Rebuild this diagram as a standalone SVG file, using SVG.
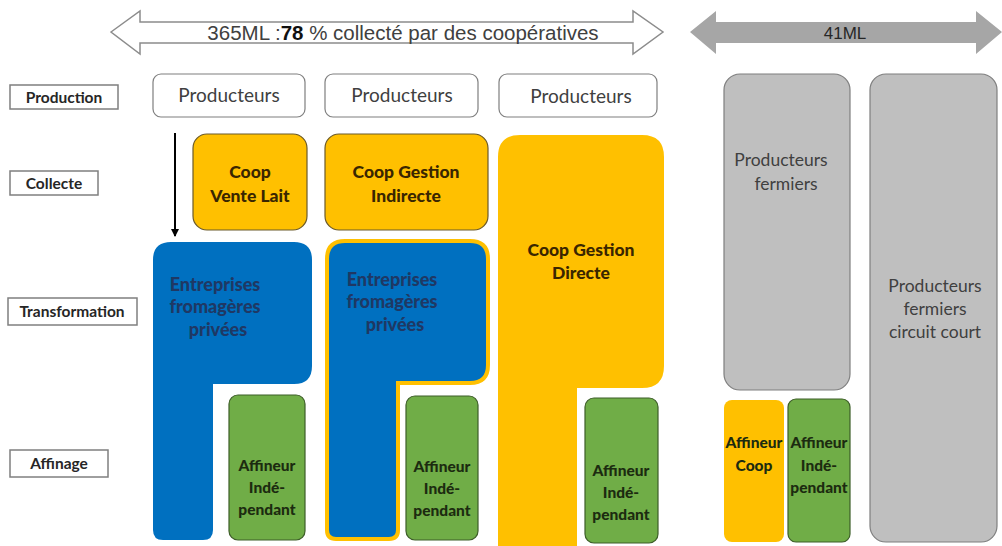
<svg xmlns="http://www.w3.org/2000/svg" width="1002" height="546" viewBox="0 0 1002 546">
<style>
.lbl{fill:#fff;stroke:#7f7f7f;stroke-width:1.5}
.lt{font-family:Lato,"Open Sans",sans-serif;font-weight:bold;font-size:15.5px;fill:#262626;text-anchor:middle}
.prod{fill:#fff;stroke:#7f7f7f;stroke-width:1.2}
.pt{font-family:Lato,"Open Sans",sans-serif;font-size:19px;fill:#404040;text-anchor:middle}
.org{fill:#FFC000;stroke:#6b5a2a;stroke-width:1.2}
.ot{font-family:Lato,"Open Sans",sans-serif;font-weight:900;font-size:17.5px;fill:#3a2600;text-anchor:middle}
.grn{fill:#70AD47;stroke:#3d5e28;stroke-width:1.2}
.gt{font-family:Lato,"Open Sans",sans-serif;font-weight:900;font-size:15.5px;fill:#1c2b10;text-anchor:middle}
.blu{fill:#0070C0}
.bt{font-family:Lato,"Open Sans",sans-serif;font-weight:900;font-size:18px;fill:#1f3864;text-anchor:middle}
.gry{fill:#BFBFBF;stroke:#7f7f7f;stroke-width:1.2}
.yt{font-family:Lato,"Open Sans",sans-serif;font-size:17.5px;fill:#404040;text-anchor:middle}
</style>
<defs>
<marker id="ah" markerWidth="8" markerHeight="8" refX="7" refY="4" orient="auto" markerUnits="userSpaceOnUse">
<path d="M0,0 L8,4 L0,8 Z" fill="#000"/>
</marker>
</defs>
<rect width="1002" height="546" fill="#fff"/>

<g id="arrow-365">
<path d="M111,32 L140,11 L140,22 L633,22 L633,11 L663,32 L633,54 L633,43 L140,43 L140,54 Z" fill="#fff" stroke="#8c8c8c" stroke-width="1.5"/>
<text x="403" y="39.5" font-family="Liberation Sans,Arial,sans-serif" font-size="20.5" fill="#404040" text-anchor="middle">365ML :<tspan font-weight="bold" fill="#111">78</tspan> % collecté par des coopératives</text>
</g>
<g id="arrow-41">
<path d="M690,32 L716,11 L716,22 L976,22 L976,11 L1002,32 L976,54 L976,43 L716,43 L716,54 Z" fill="#a6a6a6"/>
<text x="845" y="39" font-family="Liberation Sans,Arial,sans-serif" font-size="17" fill="#262626" text-anchor="middle">41ML</text>
</g>

<g id="lbl-production"><rect class="lbl" x="10" y="85" width="108" height="24"/><text class="lt" x="64" y="102.5">Production</text></g>
<g id="lbl-collecte"><rect class="lbl" x="10" y="171" width="88" height="24"/><text class="lt" x="54" y="188.5">Collecte</text></g>
<g id="lbl-transformation"><rect class="lbl" x="8" y="298" width="129" height="27"/><text class="lt" x="72" y="317">Transformation</text></g>
<g id="lbl-affinage"><rect class="lbl" x="10" y="450" width="98" height="27"/><text class="lt" x="59" y="469">Affinage</text></g>

<g id="prod1"><rect class="prod" x="153" y="74" width="152" height="43" rx="8"/><text class="pt" x="229" y="102">Producteurs</text></g>
<g id="prod2"><rect class="prod" x="325" y="74" width="153" height="43" rx="8"/><text class="pt" x="402" y="102">Producteurs</text></g>
<g id="prod3"><rect class="prod" x="499" y="74" width="158" height="43" rx="8"/><text class="pt" x="581" y="103">Producteurs</text></g>

<g id="connectors">
<line x1="175" y1="133" x2="175" y2="236" stroke="#000" stroke-width="2" marker-end="url(#ah)"/>
</g>

<g id="coop-vente-lait"><rect class="org" x="193" y="134" width="114" height="96" rx="14"/><text class="ot" x="250" y="178">Coop</text><text class="ot" x="250" y="202">Vente Lait</text></g>
<g id="coop-gestion-indirecte"><rect class="org" x="325" y="134" width="163" height="96" rx="14"/><text class="ot" x="406" y="178">Coop Gestion</text><text class="ot" x="406" y="202">Indirecte</text></g>

<g id="coop-gestion-directe">
<path d="M520,135 H642 Q664,135 664,157 V366 Q664,388 642,388 H577 V546 H498 V157 Q498,135 520,135 Z" fill="#FFC000"/>
<text class="ot" x="581" y="256">Coop Gestion</text><text class="ot" x="581" y="279">Directe</text>
</g>

<g id="entreprises-1">
<path d="M171,242 H294 Q312,242 312,260 V366 Q312,384 294,384 H213 V530 Q213,540 203,540 H163 Q153,540 153,530 V260 Q153,242 171,242 Z" class="blu"/>
<text class="bt" x="215" y="291">Entreprises</text><text class="bt" x="215" y="313">fromagères</text><text class="bt" x="218" y="336">privées</text>
</g>
<g id="entreprises-2">
<path d="M345,241 H470 Q488,241 488,259 V365 Q488,383 470,383 H398 V530 Q398,539 389,539 H336 Q327,539 327,530 V259 Q327,241 345,241 Z" class="blu" stroke="#FFC000" stroke-width="4"/>
<text class="bt" x="392" y="286">Entreprises</text><text class="bt" x="392" y="308">fromagères</text><text class="bt" x="395" y="331">privées</text>
</g>

<g id="affineur-1"><rect class="grn" x="229" y="395" width="76" height="145" rx="9"/><text class="gt" x="267" y="471">Affineur</text><text class="gt" x="267" y="493">Indé-</text><text class="gt" x="267" y="515">pendant</text></g>
<g id="affineur-2"><rect class="grn" x="406" y="396" width="72" height="144" rx="9"/><text class="gt" x="442" y="472">Affineur</text><text class="gt" x="442" y="494">Indé-</text><text class="gt" x="442" y="516">pendant</text></g>
<g id="affineur-3"><rect class="grn" x="585" y="398" width="73" height="145" rx="9"/><text class="gt" x="621" y="476">Affineur</text><text class="gt" x="621" y="498">Indé-</text><text class="gt" x="621" y="520">pendant</text></g>

<g id="producteurs-fermiers"><rect class="gry" x="724" y="74" width="126" height="316" rx="16"/><text class="yt" x="781" y="166">Producteurs</text><text class="yt" x="786" y="190">fermiers</text></g>
<g id="producteurs-circuit-court"><rect class="gry" x="870" y="74" width="127" height="468" rx="16"/><text class="yt" x="935" y="292">Producteurs</text><text class="yt" x="935" y="315">fermiers</text><text class="yt" x="935" y="338">circuit court</text></g>

<g id="affineur-coop"><rect x="724" y="400" width="60" height="142" rx="8" fill="#FFC000"/><text class="gt" x="754" y="448">Affineur</text><text class="gt" x="754" y="471">Coop</text></g>
<g id="affineur-4"><rect class="grn" x="788" y="399" width="62" height="143" rx="8"/><text class="gt" x="819" y="448">Affineur</text><text class="gt" x="819" y="471">Indé-</text><text class="gt" x="819" y="493">pendant</text></g>
</svg>
